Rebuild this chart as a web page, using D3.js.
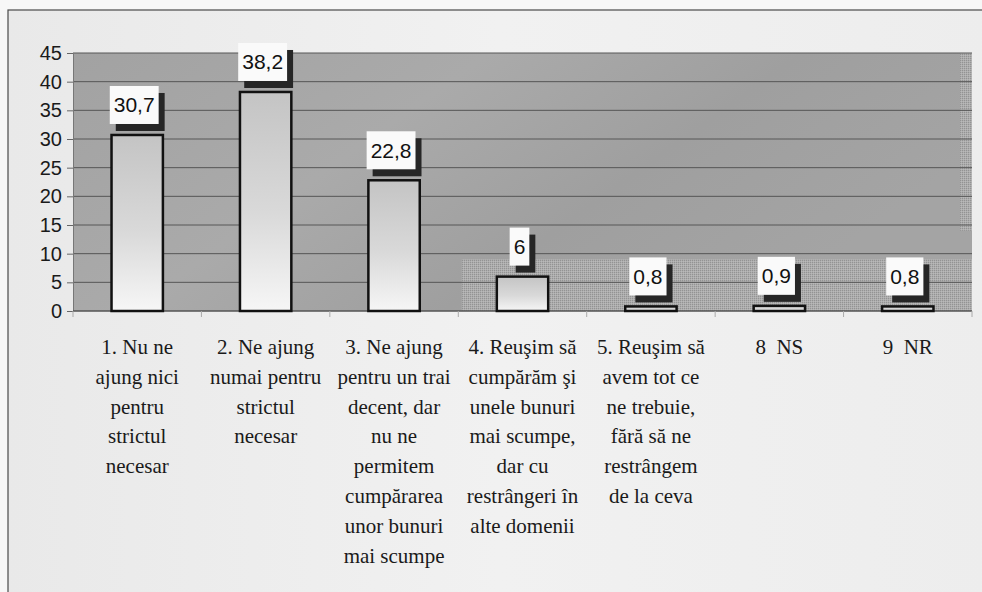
<!DOCTYPE html>
<html>
<head>
<meta charset="utf-8">
<script src="https://d3js.org/d3.v7.min.js"></script>
<style>
  body { margin: 0; background: #fff; }
  svg { display: block; }
  .cat-label { font-family: "Liberation Serif", "Times New Roman", "DejaVu Serif", serif; white-space: pre; }
</style>
</head>
<body>
<svg id="chart" width="982" height="592"></svg>
<script>
// Data
var categories = [
  "1. Nu ne\najung nici\npentru\nstrictul\nnecesar",
  "2. Ne ajung\nnumai pentru\nstrictul\nnecesar",
  "3. Ne ajung\npentru un trai\ndecent, dar\nnu ne\npermitem\ncumpărarea\nunor bunuri\nmai scumpe",
  "4. Reuşim să\ncumpărăm şi\nunele bunuri\nmai scumpe,\ndar cu\nrestrângeri în\nalte domenii",
  "5. Reuşim să\navem tot ce\nne trebuie,\nfără să ne\nrestrângem\nde la ceva",
  "8  NS",
  "9  NR"
];
var values = [30.7, 38.2, 22.8, 6, 0.8, 0.9, 0.8];
var valueLabels = ["30,7", "38,2", "22,8", "6", "0,8", "0,9", "0,8"];
var yTicks = [0, 5, 10, 15, 20, 25, 30, 35, 40, 45];

var data = categories.map(function(c, i) {
  return { cat: c, value: values[i], label: valueLabels[i] };
});

var svg = d3.select("#chart");
var margin = { left: 73, right: 10, top: 53, bottom: 281 };
var width = 982, height = 592;
var sans = "Liberation Sans, Arial, sans-serif";

var x = d3.scaleBand()
  .domain(categories)
  .range([margin.left, width - margin.right])
  .paddingInner(0.6)
  .paddingOuter(0.3);

var y = d3.scaleLinear()
  .domain([0, 45])
  .range([height - margin.bottom, margin.top]);

var defs = svg.append("defs");

// page background + frame
var pageGrad = defs.append("linearGradient").attr("id", "page-bg")
  .attr("x1", 0).attr("x2", 1).attr("y1", 0).attr("y2", 0);
pageGrad.append("stop").attr("offset", "0%").attr("stop-color", "#e9e9e9");
pageGrad.append("stop").attr("offset", "50%").attr("stop-color", "#f1f1f1");
pageGrad.append("stop").attr("offset", "100%").attr("stop-color", "#ededed");

svg.append("rect").attr("width", width).attr("height", height).attr("fill", "#f7f7f7");
svg.append("rect")
  .attr("x", 8).attr("y", 10)
  .attr("width", width).attr("height", height)
  .attr("fill", "url(#page-bg)")
  .attr("stroke", "#4a4a4a")
  .attr("stroke-width", 1.2);

// plot area background
var plotGrad = defs.append("linearGradient").attr("id", "plot-bg")
  .attr("x1", 0).attr("x2", 1).attr("y1", 0).attr("y2", 0.4);
plotGrad.append("stop").attr("offset", "0%").attr("stop-color", "#a2a2a2");
plotGrad.append("stop").attr("offset", "40%").attr("stop-color", "#aaaaaa");
plotGrad.append("stop").attr("offset", "70%").attr("stop-color", "#9f9f9f");
plotGrad.append("stop").attr("offset", "100%").attr("stop-color", "#a4a4a4");

var dither = defs.append("pattern").attr("id", "dither")
  .attr("width", 2).attr("height", 2).attr("patternUnits", "userSpaceOnUse");
dither.append("rect").attr("width", 1).attr("height", 1).attr("fill", "#000").attr("opacity", 0.15);
dither.append("rect").attr("x", 1).attr("y", 1).attr("width", 1).attr("height", 1).attr("fill", "#fff").attr("opacity", 0.15);

var x0 = margin.left, x1 = width - margin.right;
svg.append("rect")
  .attr("x", x0).attr("y", y(45))
  .attr("width", x1 - x0).attr("height", y(0) - y(45))
  .attr("fill", "url(#plot-bg)");

// stippled patches of the scanned background
function patch(px, py, pw, ph, col) {
  svg.append("rect").attr("x", px).attr("y", py).attr("width", pw).attr("height", ph).attr("fill", col);
  svg.append("rect").attr("x", px).attr("y", py).attr("width", pw).attr("height", ph).attr("fill", "url(#dither)");
}
var px0 = x(categories[3]) - 35;
patch(px0, y(9), x1 - px0, y(0) - y(9), "#adadad");
patch(x1 - 12, y(45), 12, y(14) - y(45), "#adadad");

// gridlines
svg.append("g")
  .selectAll("line")
  .data(yTicks.filter(function(t) { return t > 0; }))
  .enter().append("line")
  .attr("x1", x0).attr("x2", x1)
  .attr("y1", function(d) { return y(d); })
  .attr("y2", function(d) { return y(d); })
  .attr("stroke", "#565656")
  .attr("stroke-width", 1);

// y axis
var yAxis = svg.append("g")
  .attr("transform", "translate(" + x0 + ",0)")
  .call(d3.axisLeft(y).tickValues(yTicks).tickSize(6).tickPadding(5));
yAxis.attr("font-family", null);
yAxis.select(".domain").attr("stroke", "#777");
yAxis.selectAll(".tick line").attr("stroke", "#666");
yAxis.selectAll("text")
  .attr("font-family", sans)
  .attr("font-size", 20)
  .attr("fill", "#1a1a1a");

// x axis line + ticks at band boundaries
svg.append("line")
  .attr("x1", x0).attr("x2", x1)
  .attr("y1", y(0)).attr("y2", y(0))
  .attr("stroke", "#555").attr("stroke-width", 1.5);
svg.append("g").selectAll("line")
  .data(d3.range(categories.length + 1))
  .enter().append("line")
  .attr("x1", function(i) { return x0 + i * (x1 - x0) / categories.length; })
  .attr("x2", function(i) { return x0 + i * (x1 - x0) / categories.length; })
  .attr("y1", y(0)).attr("y2", y(0) + 6)
  .attr("stroke", "#aaa");

// bars
var barGrad = defs.append("linearGradient").attr("id", "bar-fill")
  .attr("x1", 0).attr("x2", 0).attr("y1", 0).attr("y2", 1);
barGrad.append("stop").attr("offset", "0%").attr("stop-color", "#c4c4c4");
barGrad.append("stop").attr("offset", "55%").attr("stop-color", "#d9d9d9");
barGrad.append("stop").attr("offset", "100%").attr("stop-color", "#f6f6f6");

var bars = svg.append("g").selectAll("g.bar")
  .data(data)
  .enter().append("g").attr("class", "bar");

bars.append("rect")
  .attr("x", function(d) { return x(d.cat); })
  .attr("y", function(d) { return y(d.value); })
  .attr("width", x.bandwidth())
  .attr("height", function(d) { return y(0) - y(d.value); })
  .attr("fill", "url(#bar-fill)")
  .attr("stroke", "#111")
  .attr("stroke-width", 2.5);

// value labels: white box with dark drop shadow
var lab = bars.append("g");
lab.append("rect").attr("class", "shadow");
lab.append("rect").attr("class", "box");
lab.append("text")
  .attr("font-family", sans)
  .attr("font-size", 21)
  .attr("fill", "#111")
  .attr("text-anchor", "middle")
  .text(function(d) { return d.label; });

lab.each(function(d) {
  var g = d3.select(this);
  var tw = g.select("text").node().getComputedTextLength();
  var w = tw + 8, h = 38;
  var cx = x(d.cat) + x.bandwidth() / 2;
  var bx = cx - (w + 6) / 2;
  var by = y(d.value) - 11 - h;
  g.select(".shadow")
    .attr("x", bx + 6).attr("y", by + 7)
    .attr("width", w).attr("height", h)
    .attr("fill", "#262626");
  g.select(".box")
    .attr("x", bx).attr("y", by)
    .attr("width", w).attr("height", h)
    .attr("fill", "#fafafa");
  g.select("text")
    .attr("x", bx + w / 2)
    .attr("y", by + h / 2 + 7.5);
});

// category labels
var catText = svg.append("g").selectAll("text")
  .data(data)
  .enter().append("text")
  .attr("class", "cat-label")
  .attr("font-size", 21)
  .attr("fill", "#1a1a1a")
  .attr("text-anchor", "middle")
  .attr("transform", function(d) {
    return "translate(" + (x(d.cat) + x.bandwidth() / 2) + "," + (y(0) + 43) + ")";
  });
catText.selectAll("tspan")
  .data(function(d) { return d.cat.split("\n"); })
  .enter().append("tspan")
  .attr("x", 0)
  .attr("y", function(d, i) { return i * 29.8; })
  .text(function(d) { return d; });
</script>
</body>
</html>
